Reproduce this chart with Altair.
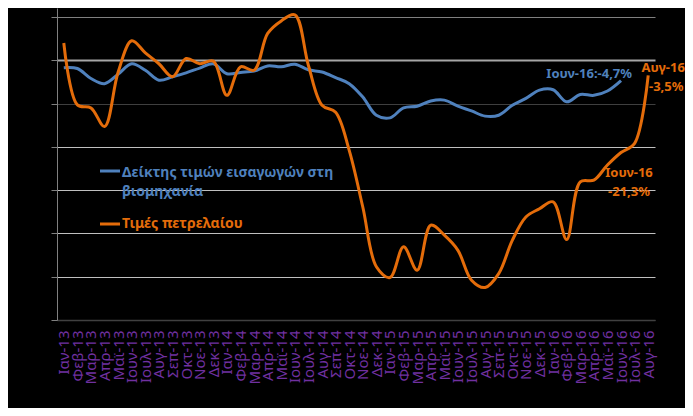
import altair as alt
import pandas as pd

months = [f"{m}-{y}" for y in ["13", "14", "15", "16"]
          for m in ["Ιαν", "Φεβ", "Μαρ", "Απρ", "Μαϊ", "Ιουν", "Ιουλ", "Αυγ", "Σεπ", "Οκτ", "Νοε", "Δεκ"]][:44]

import_prices = [-1.7, -1.9, -4.2, -5.4, -3.2, -0.8, -2.3, -4.6, -3.8, -2.9,
                 -1.8, -0.8, -3.1, -2.8, -2.5, -1.3, -1.5, -0.9, -2.2, -2.7,
                 -4.0, -5.4, -8.5, -12.7, -13.3, -11.0, -10.6, -9.4, -9.2, -10.6,
                 -11.7, -12.9, -12.7, -10.4, -8.8, -6.9, -6.8, -9.6, -7.9, -8.1,
                 -7.1, -4.7]
oil_prices = [4.0, -10.3, -11.0, -15.3, -2.7, 4.5, 1.7, -0.8, -3.8, 0.4,
              -0.8, -0.2, -8.1, -1.5, -2.3, 6.2, 9.1, 10.5, -1.2, -10.4,
              -12.0, -20.8, -33.9, -47.7, -50.2, -43.1, -48.5, -38.1, -40.4, -43.9,
              -50.8, -52.5, -49.3, -41.6, -36.2, -34.3, -32.7, -41.4, -28.1, -27.7,
              -24.2, -21.3, -19.2, -3.5]

s_blue = "Δείκτης τιμών εισαγωγών στη βιομηχανία"
s_orange = "Τιμές πετρελαίου"
BLUE = "#4F81BD"
ORANGE = "#E46C0A"
FONT = "Noto Sans"

rows = [{"month": m, "value": v, "series": s_blue} for m, v in zip(months, import_prices)]
rows += [{"month": m, "value": v, "series": s_orange} for m, v in zip(months, oil_prices)]
df = pd.DataFrame(rows)

x_enc = alt.X("month:O", sort=months, scale=alt.Scale(padding=0.5),
              axis=alt.Axis(title=None, labelAngle=-90, labelAlign="right", labelBaseline="middle",
                            labelColor="#7030A0", labelFontSize=15, labelFont=FONT, labelPadding=10,
                            ticks=False, domainColor="#404040", domainWidth=1.5, grid=False,
                            labelOverlap=False))
y_enc = alt.Y("value:Q", scale=alt.Scale(domain=[-60, 12.08], nice=False, zero=False),
              axis=alt.Axis(title=None, labels=False, values=[-60, -50, -40, -30, -20, -10, 0, 10],
                            tickColor="#808080", tickSize=6, domainColor="#808080",
                            grid=True,
                            gridColor={"condition": [
                                {"test": "datum.value == -10", "value": "#3F3F3F"},
                                {"test": "datum.value == -60", "value": "#404040"},
                                {"test": "datum.value == 10", "value": "#808080"},
                                {"test": "datum.value == 0", "value": "#A6A6A6"}],
                                "value": "#BFBFBF"},
                            gridWidth={"condition": {"test": "datum.value == 0", "value": 2}, "value": 1}))

lines = alt.Chart(df).mark_line(interpolate="catmull-rom", strokeWidth=3).encode(
    x=x_enc, y=y_enc,
    color=alt.Color("series:N", scale=alt.Scale(domain=[s_blue, s_orange], range=[BLUE, ORANGE]), legend=None),
)

ann = pd.DataFrame([
    {"month": "Ιουν-16", "value": -4.7, "label": "Ιουν-16:-4,7%"},
    {"month": "Αυγ-16", "value": -3.5, "label": "Αυγ-16"},
    {"month": "Αυγ-16", "value": -3.5, "label": "-3,5%"},
    {"month": "Ιουν-16", "value": -21.3, "label": "Ιουν-16"},
    {"month": "Ιουν-16", "value": -21.3, "label": "-21,3%"},
])

def ann_layer(i, color, align, dx, dy):
    return alt.Chart(ann.iloc[[i]]).mark_text(
        font=FONT, fontSize=13, fontWeight="bold", color=color, align=align,
        baseline="middle", dx=dx, dy=dy).encode(
        x=alt.X("month:O", sort=months), y="value:Q", text="label:N")

annotations = [
    ann_layer(0, BLUE, "right", 11, -7),
    ann_layer(1, ORANGE, "center", 15, -7),
    ann_layer(2, ORANGE, "center", 18, 12),
    ann_layer(3, ORANGE, "center", 8, 21),
    ann_layer(4, ORANGE, "center", 8, 40),
]

leg = pd.DataFrame({"k": [0]})
legend_layers = [
    alt.Chart(leg).mark_rule(color=BLUE, strokeWidth=3).encode(
        x=alt.value(43), x2=alt.value(63), y=alt.value(163)),
    alt.Chart(leg).mark_text(font=FONT, fontSize=14, fontWeight="bold", color=BLUE, align="left",
                             baseline="middle").encode(
        x=alt.value(65), y=alt.value(165), text=alt.value("Δείκτης τιμών εισαγωγών στη")),
    alt.Chart(leg).mark_text(font=FONT, fontSize=14, fontWeight="bold", color=BLUE, align="left",
                             baseline="middle").encode(
        x=alt.value(65), y=alt.value(184), text=alt.value("βιομηχανία")),
    alt.Chart(leg).mark_rule(color=ORANGE, strokeWidth=3).encode(
        x=alt.value(43), x2=alt.value(63), y=alt.value(216)),
    alt.Chart(leg).mark_text(font=FONT, fontSize=14, fontWeight="bold", color=ORANGE, align="left",
                             baseline="middle").encode(
        x=alt.value(65), y=alt.value(216), text=alt.value("Τιμές πετρελαίου")),
]

chart = alt.layer(lines, *annotations, *legend_layers).properties(
    width=598, height=312,
    autosize=alt.AutoSizeParams(type="none"),
    padding={"left": 49, "top": 0, "right": 30, "bottom": 88},
    background="black",
).configure_view(stroke=None)

chart.save("out.html", embed_options={"renderer": "svg", "actions": False})
